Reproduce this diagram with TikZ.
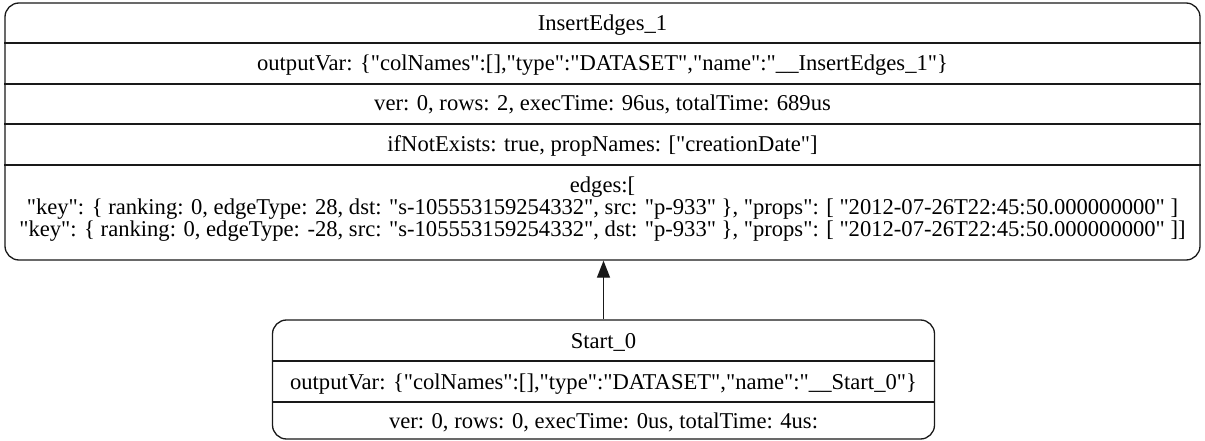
\documentclass[tikz,border=0pt]{standalone}
\usepackage{fontspec}
\setmainfont{Liberation Serif}[Ligatures=TeXOff]
\usetikzlibrary{arrows.meta,calc}
\begin{document}
\begin{tikzpicture}[x=1pt,y=-1pt,
  font=\fontsize{22.6}{22.4}\selectfont,
  box/.style={draw=black!90, line width=1.3pt, rounded corners=14pt, inner sep=0pt},
  txt/.style={inner sep=0pt, anchor=base},
  sep/.style={draw=black!90, line width=1.3pt},
  flow/.style={draw=black!90, line width=1.3pt, -{Triangle[length=17pt,width=13pt]}}]
\useasboundingbox (0,0) rectangle (1205,441);
% top record
\node[box, minimum width=1195pt, minimum height=257pt] (ins) at (602.5,131.5) {};
\coordinate (d1) at (0,43);
\coordinate (d2) at (0,84);
\coordinate (d3) at (0,124);
\coordinate (d4) at (0,165);
\foreach \d in {d1,d2,d3,d4} \draw[sep] (ins.west |- \d) -- (ins.east |- \d);
\node[txt] (t1) at (602.5,30.5) {InsertEdges\_1};
\node[txt] (t2) at (602.5,70.5) {outputVar: \{"colNames":[],"type":"DATASET","name":"\_\_InsertEdges\_1"\}};
\node[txt] (t3) at (602.5,111) {ver: 0, rows: 2, execTime: 96us, totalTime: 689us};
\node[txt] (t4) at (602.5,151.5) {ifNotExists: true, propNames: ["creationDate"]};
\node[txt] (t5) at (602.5,192) {edges:[};
\node[txt] (t6) at (602.5,214) {"key": \{ ranking: 0, edgeType: 28, dst: "s-105553159254332", src: "p-933" \}, "props": [ "2012-07-26T22:45:50.000000000" ]};
\node[txt] (t7) at (602.5,236) {"key": \{ ranking: 0, edgeType: -28, src: "s-105553159254332", dst: "p-933" \}, "props": [ "2012-07-26T22:45:50.000000000" ]]};
% bottom record
\node[box, minimum width=662pt, minimum height=119pt] (st) at (603.5,379.5) {};
\coordinate (e1) at (0,361);
\coordinate (e2) at (0,402);
\foreach \d in {e1,e2} \draw[sep] (st.west |- \d) -- (st.east |- \d);
\node[txt] (s1) at (603.5,348) {Start\_0};
\node[txt] (s2) at (603.5,389) {outputVar: \{"colNames":[],"type":"DATASET","name":"\_\_Start\_0"\}};
\node[txt] (s3) at (603.5,428) {ver: 0, rows: 0, execTime: 0us, totalTime: 4us:};
% connector
\draw[flow] (st.north) -- (st.north |- ins.south);
\end{tikzpicture}
\end{document}
